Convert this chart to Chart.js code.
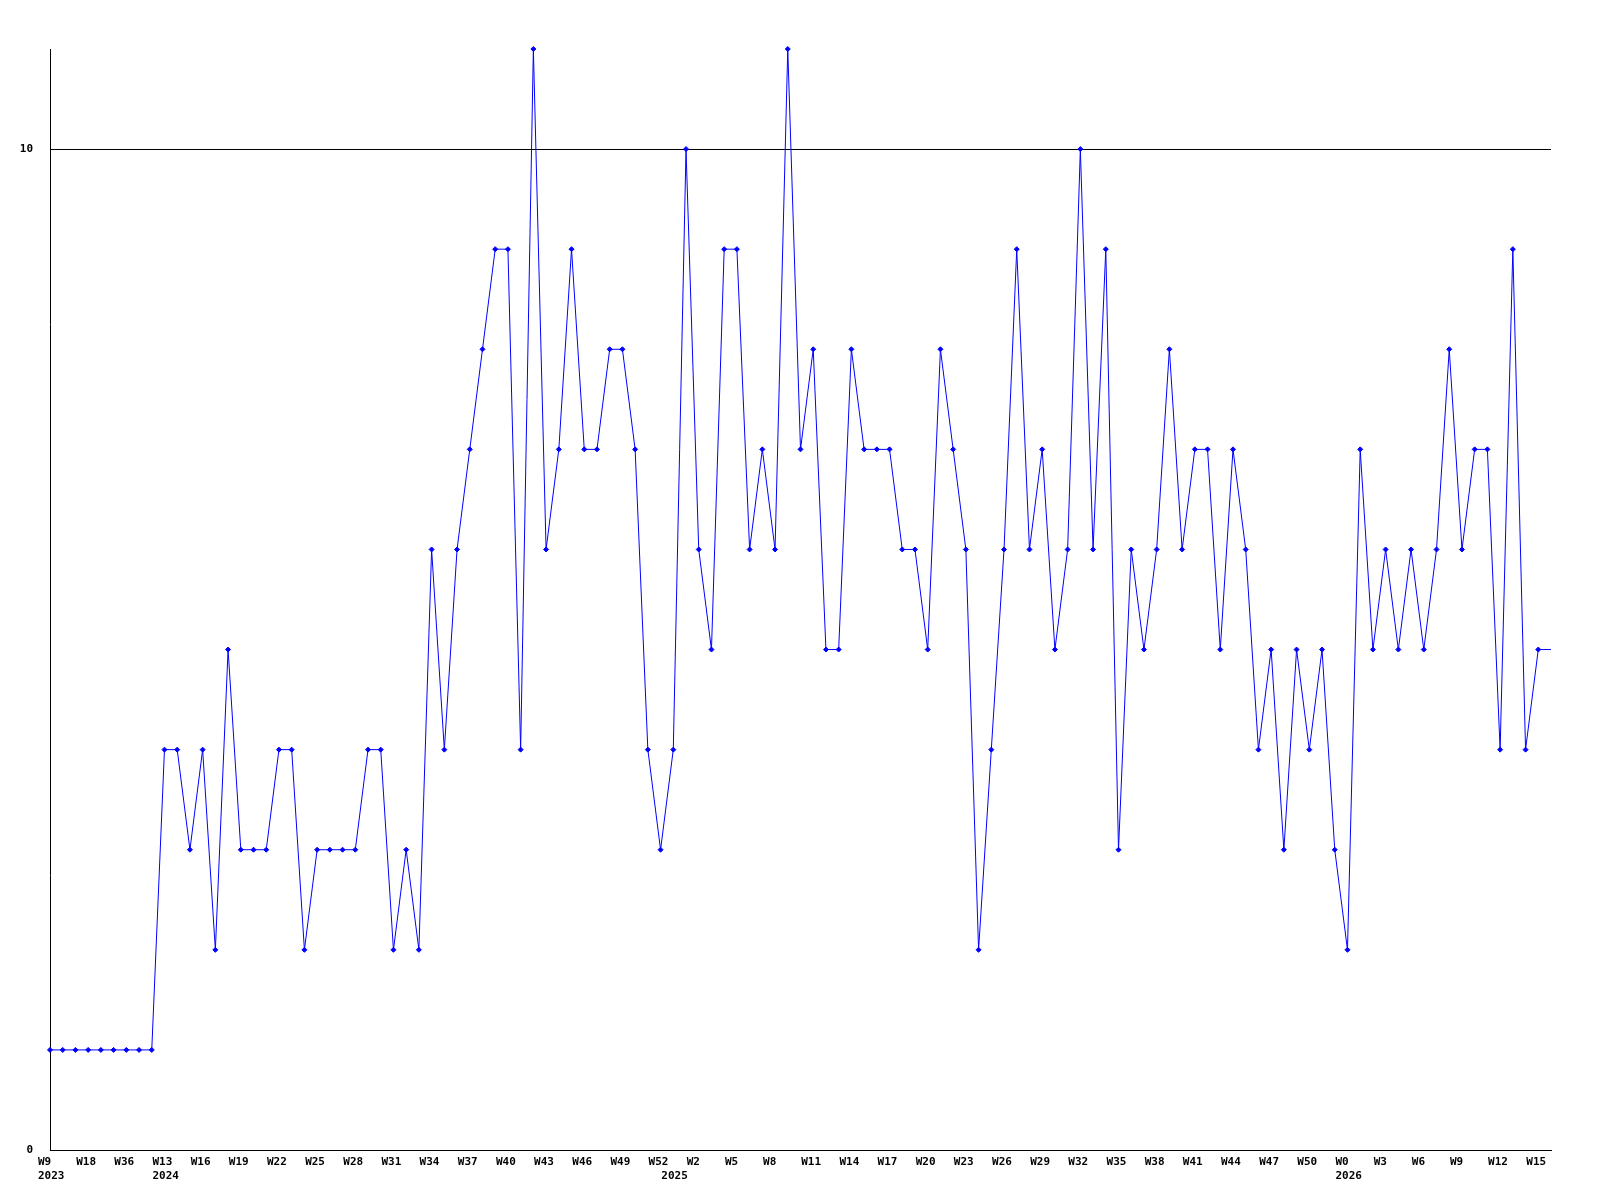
<!DOCTYPE html>
<html>
<head>
    <title>Weekly count</title>
    <script src="https://cdn.jsdelivr.net/npm/chart.js"></script>
    <style>
        body { margin: 0; background: #fff; }
    </style>
</head>
<body>
    <canvas id="myChart" width="1600" height="1200"></canvas>

    <script>
        // week numbers per year (first points of 2023 are sparse)
        var weeks2023 = [9, 12, 15, 18, 24, 30, 36, 44, 50];
        var weeks2024 = [13, 14, 15, 16, 17, 18, 19, 20, 21, 22, 23, 24, 25, 26, 27, 28, 29, 30, 31, 32,
                         33, 34, 35, 36, 37, 38, 39, 40, 41, 42, 43, 44, 45, 46, 47, 48, 49, 50, 51, 52];
        var weeks2025 = [0, 1, 2, 3, 4, 5, 6, 7, 8, 9, 10, 11, 12, 13, 14, 15, 16, 17, 18, 19, 20, 21, 22, 23, 24, 25, 26,
                         27, 28, 29, 30, 31, 32, 33, 34, 35, 36, 37, 38, 39, 40, 41, 42, 43, 44, 45, 46, 47, 48, 49, 50, 51, 52];
        var weeks2026 = [0, 1, 2, 3, 4, 5, 6, 7, 8, 9, 10, 11, 12, 13, 14, 15, 16];
        var years = ['2023', '2024', '2025', '2026'];

        var counts = [
            1, 1, 1, 1, 1, 1, 1, 1, 1,
            4, 4, 3, 4, 2, 5, 3, 3, 3, 4, 4,
            2, 3, 3, 3, 3, 4, 4, 2, 3, 2,
            6, 4, 6, 7, 8, 9, 9, 4, 11, 6,
            7, 9, 7, 7, 8, 8, 7, 4, 3, 4,
            10, 6, 5, 9, 9, 6, 7, 6, 11, 7,
            8, 5, 5, 8, 7, 7, 7, 6, 6, 5,
            8, 7, 6, 2, 4, 6, 9, 6, 7, 5,
            6, 10, 6, 9, 3, 6, 5, 6, 8, 6,
            7, 7, 5, 7, 6, 4, 5, 3, 5, 4,
            5, 3, 2, 7, 5, 6, 5, 6, 5, 6,
            8, 6, 7, 7, 4, 9, 4, 5, 5
        ];

        // build labels: week text + year text on the first week of each year
        var weekLabels = [];
        var yearLabels = [];
        [weeks2023, weeks2024, weeks2025, weeks2026].forEach(function (list, y) {
            list.forEach(function (w, j) {
                weekLabels.push('W' + w);
                yearLabels.push(j === 0 ? years[y] : '');
            });
        });

        var ctx = document.getElementById('myChart').getContext('2d');
        var tickFont = { family: '"DejaVu Sans Mono", monospace', size: 11, weight: 'bold' };

        var myChart = new Chart(ctx, {
            type: 'line',
            data: {
                labels: weekLabels,
                datasets: [{
                    data: counts,
                    borderColor: '#0000ff',
                    backgroundColor: '#0000ff',
                    borderWidth: 1,
                    tension: 0,
                    pointStyle: 'rectRot',
                    pointRadius: counts.map(function (v, i) { return i === counts.length - 1 ? 0 : 2.5; }),
                    pointBorderWidth: 1,
                    clip: false
                }]
            },
            options: {
                responsive: false,
                animation: false,
                layout: { padding: { top: 49, right: 49, left: 0, bottom: 0 } },
                plugins: {
                    legend: { display: false },
                    tooltip: { enabled: false }
                },
                scales: {
                    x: {
                        grid: { display: false, drawTicks: false },
                        border: { display: true, color: '#000', width: 1 },
                        ticks: {
                            autoSkip: false,
                            maxRotation: 0,
                            minRotation: 0,
                            align: 'start',
                            labelOffset: -12,
                            padding: 6,
                            color: '#000',
                            font: tickFont,
                            callback: function (val, i) {
                                var w = i % 3 === 0 ? weekLabels[i] : '';
                                if (yearLabels[i]) return [w, yearLabels[i]];
                                return w;
                            }
                        },
                        afterFit: function (scale) {
                            scale.height = 50;
                            scale.paddingLeft = 0;
                            scale.paddingRight = 0;
                        }
                    },
                    y: {
                        min: 0,
                        max: 11,
                        grid: { color: '#000', lineWidth: 1, drawTicks: false },
                        border: { display: true, color: '#000', width: 1 },
                        ticks: {
                            stepSize: 10,
                            includeBounds: false,
                            padding: 17,
                            color: '#000',
                            font: tickFont
                        },
                        afterFit: function (scale) {
                            scale.width = 50;
                            scale.paddingTop = 0;
                            scale.paddingBottom = 0;
                        }
                    }
                }
            }
        });
    </script>
</body>
</html>
